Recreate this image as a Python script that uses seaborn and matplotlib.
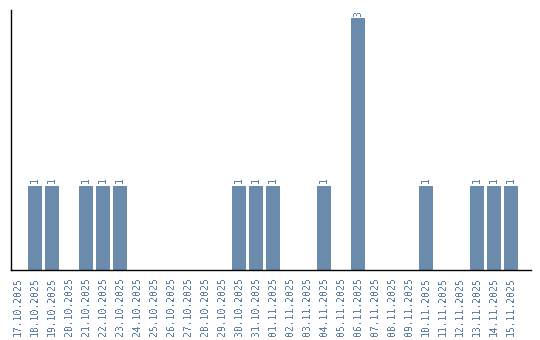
import matplotlib
matplotlib.use("Agg")
import matplotlib.pyplot as plt
import seaborn as sns
import pandas as pd

dates = ["17.10.2025", "18.10.2025", "19.10.2025", "20.10.2025", "21.10.2025",
         "22.10.2025", "23.10.2025", "24.10.2025", "25.10.2025", "26.10.2025",
         "27.10.2025", "28.10.2025", "29.10.2025", "30.10.2025", "31.10.2025",
         "01.11.2025", "02.11.2025", "03.11.2025", "04.11.2025", "05.11.2025",
         "06.11.2025", "07.11.2025", "08.11.2025", "09.11.2025", "10.11.2025",
         "11.11.2025", "12.11.2025", "13.11.2025", "14.11.2025", "15.11.2025"]
counts = [0, 1, 1, 0, 1, 1, 1, 0, 0, 0, 0, 0, 0, 1, 1,
          1, 0, 0, 1, 0, 3, 0, 0, 0, 1, 0, 0, 1, 1, 1]

sns.set_style("white")
plt.rcParams['font.family'] = ['DejaVu Sans Mono', 'DejaVu Sans']
plt.rcParams['text.antialiased'] = False

df = pd.DataFrame({"date": dates, "count": counts})
bar_color = "#6a8bab"
text_color = "#5f82a6"

fig = plt.figure(figsize=(5.4, 3.4), dpi=100)
ax = fig.add_axes([10.5 / 540, 1 - 270 / 340, 521 / 540, 260 / 340])
sns.barplot(data=df, x="date", y="count", color=bar_color, width=0.83,
            saturation=1, ax=ax, order=dates, linewidth=0, edgecolor="none")

for i, v in enumerate(counts):
    if v > 0:
        ax.annotate(str(v), (i, v), xytext=(0, 2), textcoords="offset points",
                    rotation=90, ha="center", va="bottom", fontsize=7,
                    color=text_color)

ax.set_xlim(-0.44, 30.2)
ax.set_ylim(0, 3.1)
ax.set_xlabel("")
ax.set_ylabel("")
ax.set_yticks([])
ax.tick_params(axis="x", length=0, pad=5, labelsize=7, labelcolor=text_color)
plt.setp(ax.get_xticklabels(), rotation=90)
for s in ["top", "right"]:
    ax.spines[s].set_visible(False)
for s in ["left", "bottom"]:
    ax.spines[s].set_color("black")
    ax.spines[s].set_linewidth(1)

fig.savefig("out.png", dpi=100)
